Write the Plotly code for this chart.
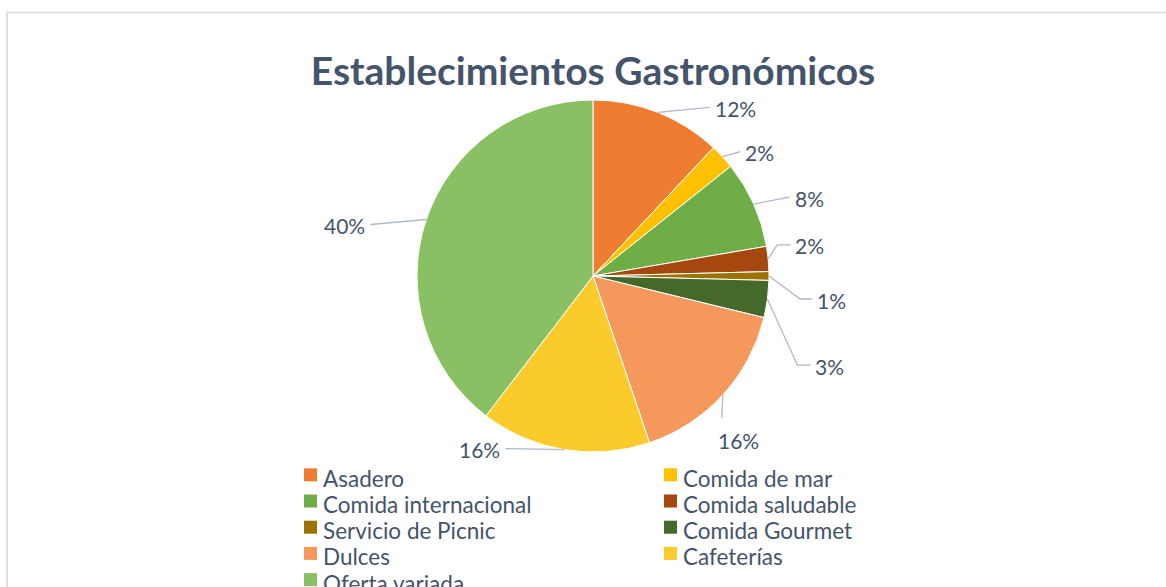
import math
import plotly.graph_objects as go

# ---- data ----
categories = ["Asadero", "Comida de mar", "Comida internacional", "Comida saludable",
              "Servicio de Picnic", "Comida Gourmet", "Dulces", "Cafeterías", "Oferta variada"]
values = [12.0, 2.3, 8.0, 2.3, 0.8, 3.4, 16.0, 15.6, 39.6]
title_text = "Establecimientos Gastronómicos"

# ---- style ----
colors = ["#EE7D31", "#FFC000", "#6FAD47", "#A5470E", "#9C7300",
          "#44692B", "#F4985C", "#FBCB2C", "#8AC064"]
# leader-line end (px offset from the slice's edge point), elbow length, text side
# side: +1 text to the right, -1 text to the left, 0 text below
leaders = [((52, -5), 0, 1), ((18, -5), 0, 1), ((36, -7), 0, 1), ((22, -14), 13, 1),
           ((43, 23), 12, 1), ((43, 66), 13, 1), ((-1, 23), 0, 0), ((-59, -1), 0, -1),
           ((-56, 5), 0, -1)]
W, H = 1166, 587
CX, CY, R = 593, 276, 176  # pie centre/radius in page pixels
TEXT = "#44546A"
LEADER = "#ADB9CA"
FONT = "Lato"


def px(x):
    return x / W


def py(y):
    return 1 - y / H


fig = go.Figure(go.Pie(
    labels=categories,
    values=values,
    marker=dict(colors=colors, line=dict(color="white", width=1)),
    sort=False,
    direction="clockwise",
    rotation=0,
    textinfo="none",
    domain=dict(x=[px(CX - R), px(CX + R)], y=[py(CY + R), py(CY - R)]),
    showlegend=False,
))

total = sum(values)
annotations = []
shapes = [dict(type="rect", xref="paper", yref="paper",
               x0=px(7), x1=1.02, y0=-0.05, y1=py(12.5),
               line=dict(color="#DDE1E6", width=2), layer="below")]

# data labels with leader lines, anchored at each slice's mid-angle edge point
cum = 0.0
for v, ((ox, oy), elbow, side) in zip(values, leaders):
    mid = (cum + v / 2) / total * 2 * math.pi
    cum += v
    ax_ = CX + R * math.sin(mid)
    ay_ = CY - R * math.cos(mid)
    ex, ey = ax_ + ox, ay_ + oy
    if side == 0:
        bx, by = ex, ey
    else:
        bx, by = ex - side * elbow, ey
    path = f"M {px(ax_)} {py(ay_)} L {px(bx)} {py(by)} L {px(ex)} {py(ey)}"
    shapes.append(dict(type="path", xref="paper", yref="paper", path=path,
                       line=dict(color=LEADER, width=1.3)))
    txt = f"{round(v / total * 100)}%"
    if side == 0:
        annotations.append(dict(x=px(ex - 6), y=py(ey + 23), xref="paper", yref="paper",
                                xanchor="left", yanchor="middle", text=txt, showarrow=False,
                                font=dict(family=FONT, size=21, color=TEXT)))
    else:
        annotations.append(dict(x=px(ex + side * 3), y=py(ey + 1), xref="paper", yref="paper",
                                xanchor="left" if side > 0 else "right", yanchor="middle",
                                text=txt, showarrow=False,
                                font=dict(family=FONT, size=21, color=TEXT)))

# legend: two columns, row by row
leg_cols_x = [304, 664]
leg_top = 468.3
leg_step = 26.2
for i, (name, col) in enumerate(zip(categories, colors)):
    r_, c_ = divmod(i, 2)
    x0 = leg_cols_x[c_]
    y0 = leg_top + r_ * leg_step
    shapes.append(dict(type="rect", xref="paper", yref="paper",
                       x0=px(x0), x1=px(x0 + 13), y0=py(y0 + 13), y1=py(y0),
                       fillcolor=col, line=dict(width=0)))
    annotations.append(dict(x=px(x0 + 17), y=py(y0 + 10), xref="paper", yref="paper",
                            xanchor="left", yanchor="middle", text=name, showarrow=False,
                            font=dict(family=FONT, size=22.5, color=TEXT)))

fig.update_layout(
    width=W, height=H,
    margin=dict(l=0, r=0, t=0, b=0, autoexpand=False),
    paper_bgcolor="white",
    plot_bgcolor="white",
    showlegend=False,
    title=dict(text=f"<b>{title_text}</b>", x=px(CX), xanchor="center",
               y=py(71), yanchor="middle",
               font=dict(family=FONT, size=39, color=TEXT)),
    annotations=annotations,
    shapes=shapes,
)

fig.write_html("out.html",
               config={"displayModeBar": False},
               post_script="document.body.style.margin='0';document.body.style.overflow='hidden';")
